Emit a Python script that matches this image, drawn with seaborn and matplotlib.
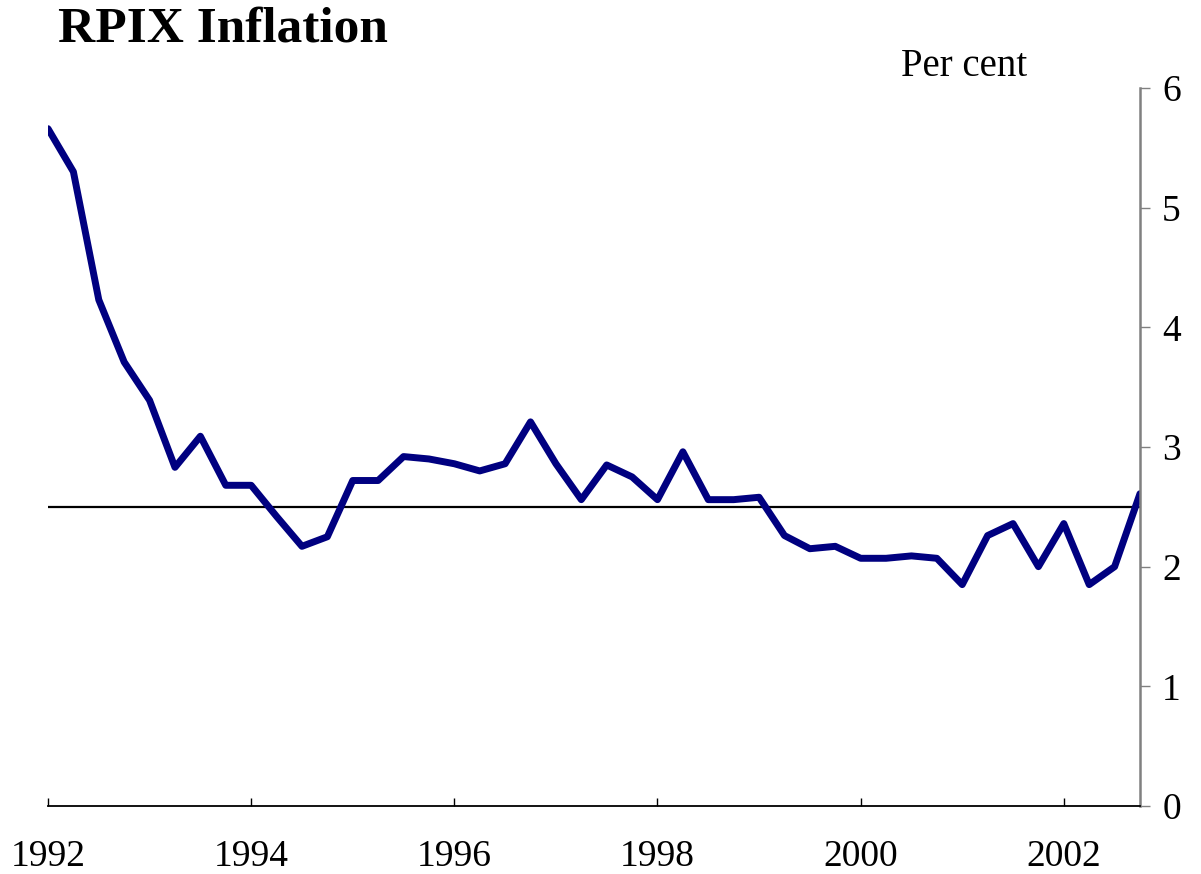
#!/usr/bin/env python3

import pandas as pd
import matplotlib
matplotlib.use("Agg")
import matplotlib.pyplot as plt
import seaborn as sns

# RPIX inflation, quarterly, 1992 Q1 - 2002 Q4 (per cent)
quarters = pd.period_range("1992Q1", "2002Q4", freq="Q")
rpix = [5.66, 5.30, 4.23, 3.71, 3.39, 2.83, 3.09, 2.68, 2.68, 2.42,
        2.17, 2.25, 2.72, 2.72, 2.92, 2.90, 2.86, 2.80, 2.86, 3.21,
        2.86, 2.56, 2.85, 2.75, 2.56, 2.96, 2.56, 2.56, 2.58, 2.26,
        2.15, 2.17, 2.07, 2.07, 2.09, 2.07, 1.85, 2.26, 2.36, 2.00,
        2.36, 1.85, 2.00, 2.61]
target = 2.5
year_ticks = [1992, 1994, 1996, 1998, 2000, 2002]
y_ticks = [0, 1, 2, 3, 4, 5, 6]


def plot_rpix():
    df = pd.DataFrame({
        "Date": quarters.year + (quarters.quarter - 1) / 4,
        "RPIX": rpix,
    })

    sns.set_style("white")
    plt.rcParams["font.family"] = ["Liberation Serif", "DejaVu Serif"]
    plt.rcParams["text.color"] = "black"
    plt.rcParams["xtick.labelcolor"] = "black"
    plt.rcParams["ytick.labelcolor"] = "black"

    fig = plt.figure(figsize=(12.01, 8.74), dpi=100)
    ax = fig.add_axes([48 / 1201, 1 - 806 / 874, (1140 - 48) / 1201, (806 - 88) / 874])

    # inflation target
    ax.axhline(target, color="black", linewidth=1.6, zorder=1)
    sns.lineplot(data=df, x="Date", y="RPIX", color="#000080",
                 linewidth=5.0, ax=ax, zorder=2)

    ax.set(xlim=(1992, 2002.75), ylim=(0, 6), xlabel="", ylabel="")
    ax.set_xticks(year_ticks)
    ax.set_xticklabels([str(y) for y in year_ticks])
    ax.set_yticks(y_ticks)

    # only the bottom and right axes are shown
    for side in ["top", "left"]:
        ax.spines[side].set_visible(False)
    ax.spines["bottom"].set_color("black")
    ax.spines["bottom"].set_linewidth(1.3)
    ax.spines["right"].set_visible(True)
    ax.spines["right"].set_color("#808080")
    ax.spines["right"].set_linewidth(1.8)

    ax.yaxis.tick_right()
    ax.tick_params(axis="x", direction="in", length=6, width=1, color="black",
                   labelsize=27, pad=24, bottom=True)
    ax.tick_params(axis="y", direction="out", length=7, width=1, color="#808080",
                   labelsize=27, pad=9, right=True, left=False)

    fig.text(58 / 1201, 1 - 30 / 874, "RPIX Inflation", fontsize=37,
             fontweight="bold", ha="left", va="center")
    fig.text(964 / 1201, 1 - 67 / 874, "Per cent", fontsize=28,
             ha="center", va="center")

    plt.savefig("out.png", dpi=100)


def main():
    plot_rpix()


if __name__ == "__main__":
    main()
